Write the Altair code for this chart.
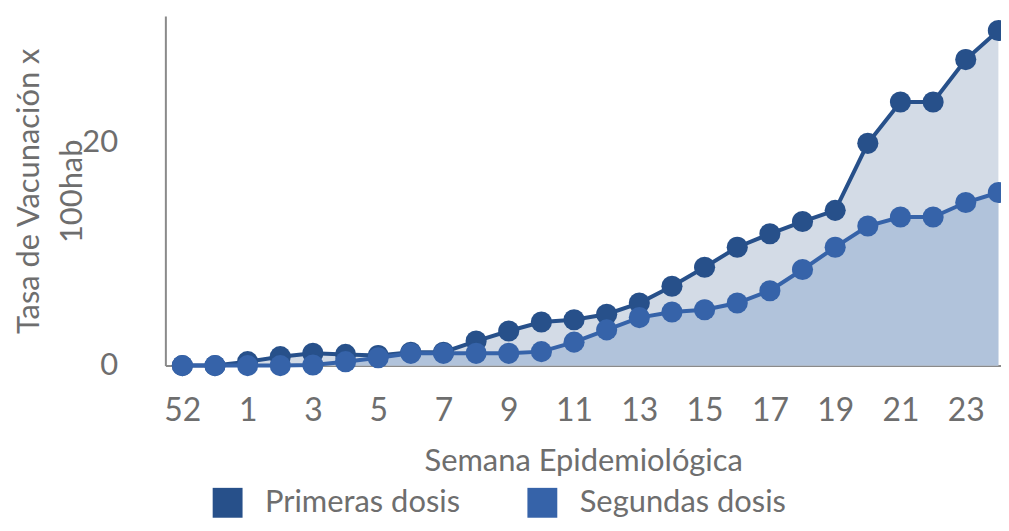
import altair as alt
import pandas as pd

weeks = ["52", "53", "1", "2", "3", "4", "5", "6", "7", "8", "9", "10", "11", "12",
         "13", "14", "15", "16", "17", "18", "19", "20", "21", "22", "23", "24"]
primeras = [0.0, 0.0, 0.35, 0.8, 1.1, 1.0, 0.9, 1.2, 1.2, 2.2, 3.1, 3.9, 4.1, 4.6,
            5.6, 7.1, 8.8, 10.6, 11.8, 12.9, 13.9, 19.9, 23.6, 23.6, 27.4, 30.0]
segundas = [0.0, 0.0, 0.0, 0.0, 0.05, 0.35, 0.7, 1.1, 1.1, 1.1, 1.1, 1.25, 2.1, 3.2,
            4.3, 4.8, 5.0, 5.6, 6.7, 8.6, 10.6, 12.5, 13.3, 13.3, 14.6, 15.5]
series_names = ["Primeras dosis", "Segundas dosis"]
line_colors = ["#27508a", "#3663a9"]
area_colors = ["#d3dbe6", "#b1c3db"]

rows = []
for i, w in enumerate(weeks):
    rows.append({"idx": i, "semana": w, "serie": series_names[0], "valor": primeras[i]})
    rows.append({"idx": i, "semana": w, "serie": series_names[1], "valor": segundas[i]})
df = pd.DataFrame(rows)

label_array = "[" + ",".join("'" + w + "'" for w in weeks) + "]"
FONT = "Lato"
GRAY = "#6e6e6e"

x_enc = alt.X(
    "idx:Q",
    scale=alt.Scale(domain=[-0.52, 25.08], nice=False, zero=False),
    axis=alt.Axis(
        title="Semana Epidemiológica",
        values=list(range(0, 25, 2)),
        labelExpr=label_array + "[datum.value]",
        labelFontSize=32, labelColor=GRAY, labelFont=FONT,
        labelPadding=30, ticks=False, grid=False,
        domain=True, domainColor="#8a8a8a", domainWidth=2,
        titleFontSize=31, titleColor=GRAY, titleFont=FONT,
        titleFontWeight="normal", titlePadding=20,
    ),
)
y_enc = alt.Y(
    "valor:Q",
    scale=alt.Scale(domain=[0, 31.3], nice=False),
    axis=alt.Axis(
        title=["Tasa de Vacunación x", "100hab"],
        values=[0, 20],
        labelFontSize=31, labelColor=GRAY, labelFont=FONT,
        labelPadding=48, ticks=False, grid=False,
        domain=True, domainColor="#8a8a8a", domainWidth=2,
        titleFontSize=31, titleColor=GRAY, titleFont=FONT,
        titleFontWeight="normal", titlePadding=-7, titleLineHeight=43,
    ),
)

color_line = alt.Color(
    "serie:N",
    scale=alt.Scale(domain=series_names, range=line_colors),
    legend=alt.Legend(
        title=None, orient="none", direction="horizontal",
        legendX=47, legendY=473,
        symbolType="square", symbolSize=900, symbolStrokeWidth=0,
        labelFontSize=31, labelColor=GRAY, labelFont=FONT, labelLimit=0,
        columnPadding=67, labelOffset=22, symbolOpacity=1,
    ),
)

base = alt.Chart(df)

area1 = base.transform_filter(alt.datum.serie == series_names[0]).mark_area(
    color=area_colors[0], opacity=1
).encode(x=x_enc, y=y_enc)
area2 = base.transform_filter(alt.datum.serie == series_names[1]).mark_area(
    color=area_colors[1], opacity=1
).encode(x=x_enc, y=y_enc)

line1 = base.transform_filter(alt.datum.serie == series_names[0]).mark_line(
    strokeWidth=4
).encode(x=x_enc, y=y_enc, color=color_line)
pts1 = base.transform_filter(alt.datum.serie == series_names[0]).mark_circle(
    size=450, opacity=1
).encode(x=x_enc, y=y_enc, color=color_line)
line2 = base.transform_filter(alt.datum.serie == series_names[1]).mark_line(
    strokeWidth=4
).encode(x=x_enc, y=y_enc, color=color_line)
pts2 = base.transform_filter(alt.datum.serie == series_names[1]).mark_circle(
    size=450, opacity=1
).encode(x=x_enc, y=y_enc, color=color_line)

chart = alt.layer(area1, area2, line1, pts1, line2, pts2).properties(
    width=839,
    height=351,
    autosize=alt.AutoSizeParams(type="none"),
    padding={"left": 158, "top": 7, "right": 0, "bottom": 157},
).configure(font=FONT).configure_view(strokeWidth=0, stroke="transparent")

chart.save("out.html", embed_options={"renderer": "svg", "actions": False})
